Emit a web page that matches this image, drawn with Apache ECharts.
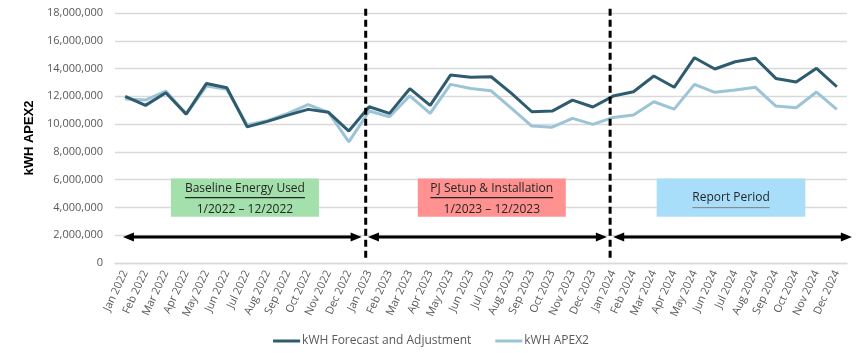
<!DOCTYPE html>
<html>
<head>
<meta charset="utf-8">
<script src="https://cdn.jsdelivr.net/npm/echarts@6/dist/echarts.min.js"></script>
<style>
  html, body { margin: 0; padding: 0; background: #fff; }
  #chart { width: 862px; height: 353px; }
</style>
</head>
<body>
<div id="chart"></div>
<script>
// === DATA ===
const months = [
  'Jan 2022', 'Feb 2022', 'Mar 2022', 'Apr 2022', 'May 2022', 'Jun 2022',
  'Jul 2022', 'Aug 2022', 'Sep 2022', 'Oct 2022', 'Nov 2022', 'Dec 2022',
  'Jan 2023', 'Feb 2023', 'Mar 2023', 'Apr 2023', 'May 2023', 'Jun 2023',
  'Jul 2023', 'Aug 2023', 'Sep 2023', 'Oct 2023', 'Nov 2023', 'Dec 2023',
  'Jan 2024', 'Feb 2024', 'Mar 2024', 'Apr 2024', 'May 2024', 'Jun 2024',
  'Jul 2024', 'Aug 2024', 'Sep 2024', 'Oct 2024', 'Nov 2024', 'Dec 2024'
];

const forecastAdj = [
  12000000, 11350000, 12260000, 10720000, 12930000, 12620000,
  9800000, 10200000, 10650000, 11060000, 10850000, 9500000,
  11250000, 10770000, 12550000, 11350000, 13530000, 13370000,
  13410000, 12210000, 10890000, 10940000, 11730000, 11230000,
  12020000, 12330000, 13460000, 12650000, 14780000, 13970000,
  14490000, 14740000, 13290000, 13030000, 14020000, 12690000
];

const apex2 = [
  11800000, 11730000, 12380000, 10720000, 12740000, 12500000,
  9930000, 10250000, 10770000, 11400000, 10850000, 8720000,
  10940000, 10530000, 12040000, 10770000, 12860000, 12570000,
  12400000, 11130000, 9860000, 9780000, 10410000, 9980000,
  10480000, 10650000, 11610000, 11080000, 12860000, 12290000,
  12450000, 12650000, 11300000, 11180000, 12310000, 11060000
];

const seriesNames = ['kWH Forecast and Adjustment', 'kWH APEX2'];

// annotations, in data units (x = category index, y = kWh)
const periodBreaks = [11.83, 23.85];
const arrowSpans = [[-0.11, 11.63], [11.94, 23.69], [24.0, 35.74]];
const arrowLevel = 1870000;
const periodBoxes = [
  { from: 2.25, to: 9.53, title: 'Baseline Energy Used', sub: '1/2022 \u2013 12/2022', color: '#A3E0AB' },
  { from: 14.39, to: 21.67, title: 'PJ Setup & Installation', sub: '1/2023 \u2013 12/2023', color: '#FF9191' },
  { from: 26.14, to: 33.45, title: 'Report Period', sub: null, color: '#A9DEFB' }
];
const boxTop = 6080000;
const boxBottom = 3330000;

// === STYLE ===
const FONT = '"Open Sans", sans-serif';
const colors = ['#2E5B6E', '#9CC4D6'];

// === RENDER ===
const chart = echarts.init(document.getElementById('chart'), null, { renderer: 'canvas' });

chart.setOption({
  animation: false,
  color: colors,
  grid: { left: 115, right: 15, top: 13, bottom: 90 },
  legend: {
    bottom: 1,
    left: 'center',
    icon: 'rect',
    itemWidth: 27,
    itemHeight: 3,
    itemGap: 24,
    textStyle: { fontFamily: FONT, fontSize: 12, color: '#595959', padding: [0, 0, 0, -3] },
    data: seriesNames
  },
  xAxis: [
    {
      type: 'category',
      data: months,
      boundaryGap: true,
      axisTick: { show: false },
      axisLine: { lineStyle: { color: '#D9D9D9', width: 1.3 } },
      axisLabel: {
        interval: 0,
        rotate: 65,
        margin: 8,
        fontFamily: FONT,
        fontSize: 11,
        color: '#595959'
      }
    },
    {
      type: 'value',
      show: false,
      min: -0.5,
      max: 35.5
    }
  ],
  yAxis: {
    type: 'value',
    min: 0,
    max: 18000000,
    interval: 2000000,
    name: 'kWH APEX2',
    nameLocation: 'middle',
    nameRotate: 90,
    nameGap: 79,
    nameTextStyle: { fontFamily: '"Liberation Sans", Arial, sans-serif', fontSize: 13, fontWeight: 'bold', color: '#000' },
    axisLine: { show: false },
    axisTick: { show: false },
    axisLabel: {
      margin: 12,
      fontFamily: FONT,
      fontSize: 11,
      color: '#595959',
      formatter: v => v.toLocaleString('en-US')
    },
    splitLine: { lineStyle: { color: '#D9D9D9', width: 1.3 } }
  },
  series: [
    {
      name: seriesNames[0],
      type: 'line',
      data: forecastAdj,
      symbol: 'none',
      lineStyle: { width: 3, color: colors[0] },
      z: 3
    },
    {
      name: seriesNames[1],
      type: 'line',
      data: apex2,
      symbol: 'none',
      lineStyle: { width: 3, color: colors[1] },
      z: 2
    }
  ]
});

// === ANNOTATIONS ===
function px(x, y) {
  return chart.convertToPixel({ xAxisIndex: 1, yAxisIndex: 0 }, [x, y]);
}

const measureCtx = document.createElement('canvas').getContext('2d');
function textWidth(str, size) {
  measureCtx.font = size + 'px ' + FONT;
  return measureCtx.measureText(str).width;
}

const graphics = [];

periodBoxes.forEach(b => {
  const p1 = px(b.from, boxTop);
  const p2 = px(b.to, boxBottom);
  const cx = (p1[0] + p2[0]) / 2;
  const cy = (p1[1] + p2[1]) / 2;
  graphics.push({
    type: 'rect',
    shape: { x: p1[0], y: p1[1], width: p2[0] - p1[0], height: p2[1] - p1[1] },
    style: { fill: b.color },
    z: 10
  });
  const tw = textWidth(b.title, 12);
  if (b.sub) {
    graphics.push({
      type: 'text',
      x: cx, y: cy - 9,
      style: { text: b.title, fontFamily: FONT, fontSize: 12, fill: '#262626', align: 'center', verticalAlign: 'middle' },
      z: 11
    });
    graphics.push({
      type: 'line',
      shape: { x1: cx - tw / 2, y1: cy, x2: cx + tw / 2, y2: cy },
      style: { stroke: '#262626', lineWidth: 1.2 },
      z: 11
    });
    graphics.push({
      type: 'text',
      x: cx, y: cy + 12,
      style: { text: b.sub, fontFamily: FONT, fontSize: 12, fill: '#262626', align: 'center', verticalAlign: 'middle' },
      z: 11
    });
  } else {
    graphics.push({
      type: 'text',
      x: cx, y: cy,
      style: { text: b.title, fontFamily: FONT, fontSize: 12, fill: '#262626', align: 'center', verticalAlign: 'middle' },
      z: 11
    });
    graphics.push({
      type: 'line',
      shape: { x1: cx - tw / 2, y1: cy + 10, x2: cx + tw / 2, y2: cy + 10 },
      style: { stroke: '#7F7F7F', lineWidth: 1 },
      z: 11
    });
  }
});

periodBreaks.forEach(x => {
  const top = px(x, 18300000);
  const bottom = px(x, 250000);
  graphics.push({
    type: 'line',
    shape: { x1: top[0], y1: top[1], x2: bottom[0], y2: bottom[1] },
    style: { stroke: '#000', lineWidth: 3, lineDash: [7, 4] },
    z: 12
  });
});

arrowSpans.forEach(span => {
  const a = px(span[0], arrowLevel);
  const b = px(span[1], arrowLevel);
  const head = 11, half = 4.5;
  graphics.push({
    type: 'line',
    shape: { x1: a[0] + head - 1, y1: a[1], x2: b[0] - head + 1, y2: b[1] },
    style: { stroke: '#000', lineWidth: 3 },
    z: 12
  });
  graphics.push({
    type: 'polygon',
    shape: { points: [[a[0], a[1]], [a[0] + head, a[1] - half], [a[0] + head, a[1] + half]] },
    style: { fill: '#000' },
    z: 12
  });
  graphics.push({
    type: 'polygon',
    shape: { points: [[b[0], b[1]], [b[0] - head, b[1] - half], [b[0] - head, b[1] + half]] },
    style: { fill: '#000' },
    z: 12
  });
});

chart.setOption({ graphic: graphics });
</script>
</body>
</html>
